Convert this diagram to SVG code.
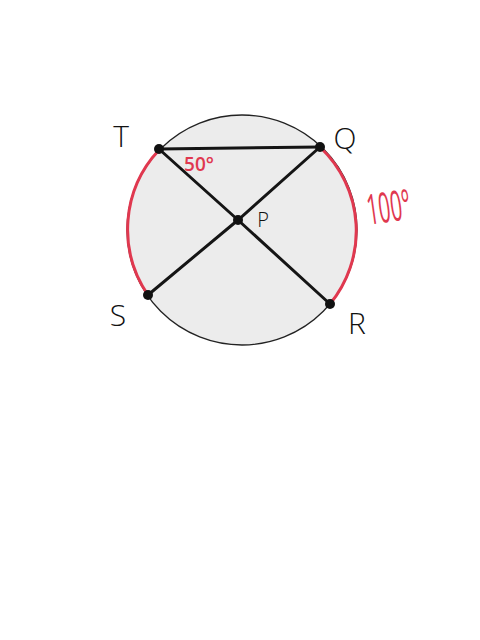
<svg xmlns="http://www.w3.org/2000/svg" width="480" height="640" viewBox="0 0 480 640">
<style>
.lbl{font-family:"Open Sans","DejaVu Sans",sans-serif;fill:#111;font-weight:300}
.red{font-family:"Open Sans","DejaVu Sans",sans-serif;fill:#e0384f}
.seg{stroke:#151515;stroke-width:3;stroke-linecap:round;fill:none}
.arc{stroke:#e0384f;stroke-width:3;fill:none;stroke-linecap:round}
.dot{fill:#111}
</style>
<rect width="480" height="640" fill="#ffffff"/>
<g id="circle"><circle cx="242" cy="230" r="115" fill="#ececec" stroke="#222" stroke-width="1.3"/></g>
<g id="arcs">
<path class="arc" d="M159,150 A116,116 0 0 0 148,295"/>
<path class="arc" d="M321,148 A115,115 0 0 1 330,304"/>
</g>
<g id="connectors">
<path class="seg" d="M159,149 L320,147"/>
<path class="seg" d="M159,149 L238,220 L330,304"/>
<path class="seg" d="M320,147 L238,220 L148,295"/>
</g>
<g id="T"><circle class="dot" cx="159" cy="149" r="5"/><text class="lbl" x="121" y="147" font-size="30" text-anchor="middle">T</text></g>
<g id="Q"><circle class="dot" cx="320" cy="147" r="5"/><text class="lbl" x="345" y="149" font-size="30" text-anchor="middle">Q</text></g>
<g id="S"><circle class="dot" cx="148" cy="295" r="5"/><text class="lbl" x="118" y="326" font-size="30" text-anchor="middle">S</text></g>
<g id="R"><circle class="dot" cx="330" cy="304" r="5"/><text class="lbl" x="357" y="334" font-size="30" text-anchor="middle">R</text></g>
<g id="P"><circle class="dot" cx="238" cy="220" r="5"/><text class="lbl" x="263" y="227" font-size="20" text-anchor="middle">P</text></g>
<text class="red" x="199" y="171" font-size="19" text-anchor="middle" font-weight="600">50°</text>
<text class="red" x="388" y="222" font-size="42" text-anchor="middle" textLength="44" lengthAdjust="spacingAndGlyphs" transform="rotate(-8 388 202)">100°</text>
</svg>
